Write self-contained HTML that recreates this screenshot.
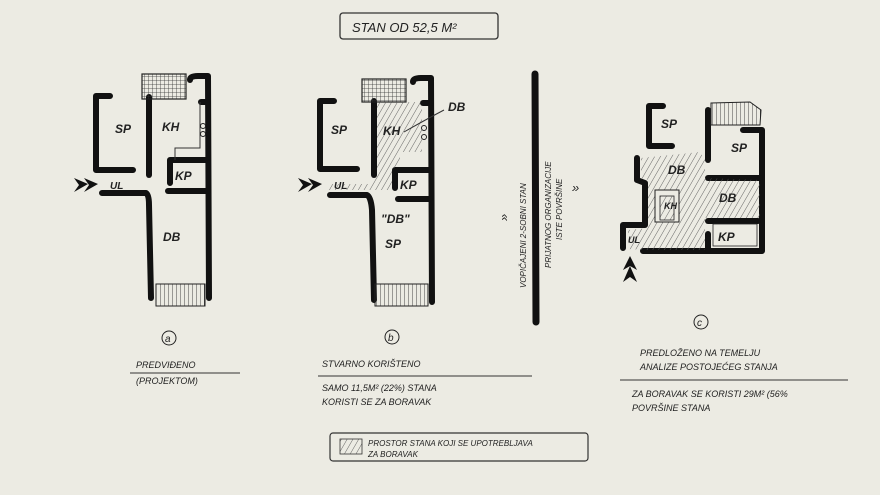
<!DOCTYPE html>
<html><head><style>
html,body{margin:0;padding:0;background:#ecebe3;}
svg{display:block}
text{font-family:"Liberation Sans",sans-serif;font-style:italic;fill:#222}
</style></head><body>
<svg width="880" height="495" viewBox="0 0 880 495" xmlns="http://www.w3.org/2000/svg">
<defs>
<pattern id="h" width="5" height="5" patternUnits="userSpaceOnUse" patternTransform="rotate(30)">
<line x1="0" y1="0" x2="0" y2="5" stroke="#555" stroke-width="0.9"/></pattern>
<pattern id="g" width="4" height="4" patternUnits="userSpaceOnUse">
<path d="M0 0H4M0 0V4" stroke="#333" stroke-width="0.8" fill="none"/></pattern>
<pattern id="v" width="4" height="4" patternUnits="userSpaceOnUse">
<path d="M0 0V4" stroke="#333" stroke-width="0.9"/></pattern>
</defs>
<rect width="880" height="495" fill="#ecebe3"/>

<!-- title -->
<rect x="340" y="13" width="158" height="26" rx="3" fill="none" stroke="#333" stroke-width="1.3"/>
<text x="352" y="32" font-size="13">STAN OD  52,5 M²</text>

<g stroke="#111" stroke-width="6" fill="none" stroke-linecap="round" stroke-linejoin="round">
<!-- Plan A -->
<path d="M110,96 L96,96 L96,170 L133,170"/>
<path d="M149,97 L149,175"/>
<path d="M190,80 Q190,76 198,76 L208,76 L209,298"/>
<path d="M201,102 L208,102"/>
<path d="M206,160 L170,160 L170,183"/>
<path d="M168,191 L208,191"/>
<path d="M102,193 L146,193 Q149,195 149,205 L151,298"/>
<!-- Plan B -->
<path d="M334,101 L320,101 L320,169 L357,169"/>
<path d="M374,101 L374,175"/>
<path d="M413,82 Q413,78 421,78 L431,78 L432,302"/>
<path d="M423,103 L431,103"/>
<path d="M430,170 L395,170 L395,188"/>
<path d="M398,199 L430,199"/>
<path d="M330,195 L367,195 Q371,197 372,210 L374,300"/>
<!-- Plan C -->
<path d="M663,106 L649,106 L649,146 L672,146"/>
<path d="M637,158 L637,180 L645,183 L645,225 L623,225 L623,248"/>
<path d="M643,251 L762,251 L762,130 L743,130"/>
<path d="M708,110 L708,160"/>
<path d="M708,178 L760,178"/>
<path d="M708,221 L758,221"/>
<path d="M708,234 L708,250"/>
</g>
<!-- divider -->
<line x1="535" y1="74" x2="536" y2="322" stroke="#111" stroke-width="7" stroke-linecap="round"/>

<!-- balconies -->
<rect x="142" y="74" width="44" height="25" fill="url(#g)" stroke="#222" stroke-width="1.2"/>
<rect x="156" y="284" width="49" height="22" fill="url(#v)" stroke="#222" stroke-width="1"/>
<rect x="362" y="79" width="44" height="23" fill="url(#g)" stroke="#222" stroke-width="1.2"/>
<rect x="375" y="284" width="53" height="22" fill="url(#v)" stroke="#222" stroke-width="1"/>
<path d="M711,103 L750,102 L761,110 L760,125 L711,125Z" fill="url(#v)" stroke="#222" stroke-width="1"/>
<!-- thin lines A -->
<path d="M200,102 L200,148 L175,148 L175,160" fill="none" stroke="#333" stroke-width="1"/>
<circle cx="203" cy="126" r="2.5" fill="none" stroke="#222"/><circle cx="203" cy="134" r="2.5" fill="none" stroke="#222"/>
<!-- hatched B -->
<path d="M377,102 L422,102 L422,152 L400,152 L400,167 L392,168 L392,190 L328,190 L328,184 L372,184 L377,175Z" fill="url(#h)"/>
<circle cx="424" cy="128" r="2.5" fill="none" stroke="#222"/><circle cx="424" cy="137" r="2.5" fill="none" stroke="#222"/>
<path d="M404,132 Q425,120 444,110" stroke="#333" fill="none" stroke-width="1"/>
<!-- hatched C -->
<path d="M641,158 L700,152 L705,160 L705,178 L760,180 L760,218 L705,218 L705,250 L645,250 L628,249 L628,230 L648,228 L648,180 L641,178Z" fill="url(#h)"/>
<rect x="655" y="190" width="24" height="32" fill="#ecebe3" stroke="#222" stroke-width="1"/>
<rect x="660" y="196" width="14" height="24" fill="url(#h)" stroke="#222" stroke-width="0.8"/>
<rect x="713" y="224" width="44" height="22" fill="#ecebe3" stroke="#222" stroke-width="0.8"/>

<!-- arrows -->
<g fill="#111">
<path d="M74,178 L88,184 L74,192 L79,185Z M84,178 L98,184 L84,192 L89,185Z"/>
<path d="M298,178 L312,184 L298,192 L303,185Z M308,178 L322,184 L308,192 L313,185Z"/>
<path d="M630,256 L637,270 L630,266 L623,270Z M630,266 L637,282 L630,277 L623,282Z"/>
</g>
<text x="572" y="192" font-size="13">»</text>
<text x="497" y="220" font-size="13" transform="rotate(-90 503 215)">»</text>

<!-- room labels -->
<g font-size="12" font-weight="bold">
<text x="115" y="133">SP</text><text x="162" y="131">KH</text><text x="175" y="180">KP</text>
<text x="110" y="189" font-size="10">UL</text><text x="163" y="241">DB</text>
<text x="331" y="134">SP</text><text x="383" y="135">KH</text><text x="400" y="189">KP</text>
<text x="334" y="189" font-size="10">UL</text><text x="448" y="111">DB</text>
<text x="381" y="223">"DB"</text><text x="385" y="248">SP</text>
<text x="661" y="128">SP</text><text x="731" y="152">SP</text><text x="668" y="174">DB</text>
<text x="664" y="209" font-size="9">KH</text><text x="719" y="202">DB</text><text x="718" y="241">KP</text>
<text x="628" y="243" font-size="9">UL</text>
</g>

<!-- vertical labels -->
<g font-size="8">
<text transform="translate(526,288) rotate(-90)">VOPIČAJENI 2-SOBNI STAN</text>
<text transform="translate(551,268) rotate(-90)">PRIJATNOG ORGANIZACIJE</text>
<text transform="translate(562,240) rotate(-90)">ISTE POVRŠINE</text>
</g>

<!-- circled letters -->
<g font-size="12" fill="none">
<circle cx="169" cy="338" r="7" stroke="#222" fill="none"/>
<circle cx="392" cy="337" r="7" stroke="#222" fill="none"/>
<circle cx="701" cy="322" r="7" stroke="#222" fill="none"/>
</g>
<text x="165" y="342" font-size="10">a</text><text x="388" y="341" font-size="10">b</text><text x="697" y="326" font-size="10">c</text>

<!-- captions -->
<g font-size="9">
<text x="136" y="368">PREDVIĐENO</text>
<line x1="130" y1="373" x2="240" y2="373" stroke="#333"/>
<text x="136" y="384">(PROJEKTOM)</text>
<text x="322" y="367">STVARNO KORIŠTENO</text>
<line x1="318" y1="376" x2="532" y2="376" stroke="#333"/>
<text x="322" y="391">SAMO 11,5M² (22%) STANA</text>
<text x="322" y="405">KORISTI SE ZA BORAVAK</text>
<text x="640" y="356">PREDLOŽENO NA TEMELJU</text>
<text x="640" y="370">ANALIZE POSTOJEĆEG STANJA</text>
<line x1="620" y1="380" x2="848" y2="380" stroke="#333"/>
<text x="632" y="397">ZA BORAVAK SE KORISTI 29M² (56%</text>
<text x="632" y="411">POVRŠINE STANA</text>
</g>
<rect x="330" y="433" width="258" height="28" rx="3" fill="none" stroke="#333" stroke-width="1.2"/>
<rect x="340" y="439" width="22" height="15" fill="url(#h)" stroke="#333" stroke-width="0.8"/>
<text x="368" y="446" font-size="8">PROSTOR STANA KOJI SE UPOTREBLJAVA</text>
<text x="368" y="457" font-size="8">ZA BORAVAK</text>
</svg>
</body></html>
